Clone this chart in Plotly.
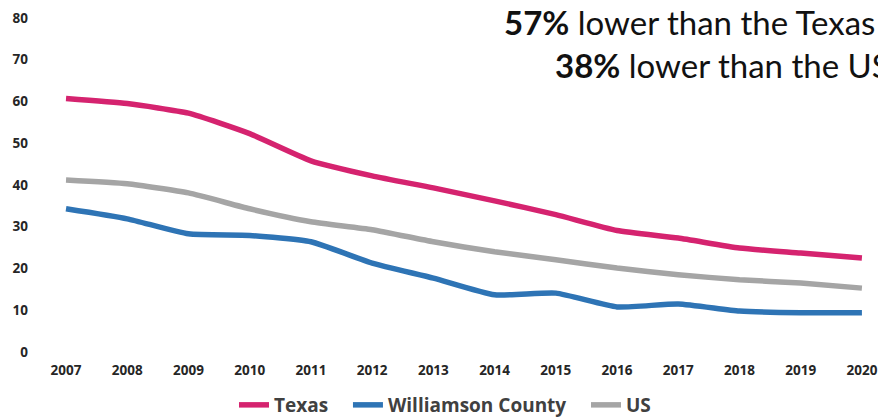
import plotly.graph_objects as go

years = list(range(2007, 2021))
texas = [60.7, 59.5, 57.2, 52.3, 45.8, 42.2, 39.3, 36.2, 32.9, 29.1, 27.3, 24.9, 23.7, 22.5]
williamson = [34.3, 31.9, 28.3, 27.9, 26.4, 21.3, 17.7, 13.7, 14.1, 10.8, 11.5, 9.8, 9.4, 9.4]
us = [41.2, 40.3, 38.1, 34.3, 31.2, 29.3, 26.4, 24.0, 22.1, 20.1, 18.5, 17.3, 16.5, 15.3]
y_ticks = [0, 10, 20, 30, 40, 50, 60, 70, 80]

W, H = 886, 417
# the page body adds an 8px offset; figure coordinates are shifted accordingly
L, R, T, B = 32, 18, 10, 73

fig = go.Figure()
series = [("Texas&nbsp;&nbsp;&nbsp;", texas, "#d5236f"),
          ("Williamson County&nbsp;&nbsp;&nbsp;", williamson, "#2e74b5"),
          ("US", us, "#a5a5a5")]
for name, vals, col in series:
    fig.add_trace(go.Scatter(x=years, y=vals, name=name, mode="lines",
                             line=dict(color=col, width=5.5, shape="spline", smoothing=0.5)))

def px_x(p):
    return (p - L) / (W - L - R)

def px_y(p):
    return (H - B - p) / (H - T - B)

ann_font = dict(family="Lato, sans-serif", size=33, color="#111111")
fig.add_annotation(text="<b>57%</b> lower than the Texas", xref="paper", yref="paper",
                   x=px_x(494), y=px_y(14), xanchor="left", yanchor="middle",
                   showarrow=False, font=ann_font)
fig.add_annotation(text="<b>38%</b> lower than the US", xref="paper", yref="paper",
                   x=px_x(545), y=px_y(57), xanchor="left", yanchor="middle",
                   showarrow=False, font=ann_font)

tick_font = dict(family="Open Sans, sans-serif", size=13.5, color="#262626", weight="bold")
fig.update_layout(
    width=W, height=H,
    margin=dict(l=L, r=R, t=T, b=B, autoexpand=False),
    paper_bgcolor="white", plot_bgcolor="white",
    xaxis=dict(range=[2006.575, 2020.23], tickmode="array", tickvals=years,
               ticktext=[str(y) for y in years], showgrid=False, zeroline=False,
               showline=False, ticks="", tickfont=tick_font, ticklabelstandoff=8,
               automargin=False),
    yaxis=dict(range=[0, 80], tickmode="array", tickvals=y_ticks, showgrid=False,
               zeroline=False, showline=False, ticks="", tickfont=tick_font,
               ticklabelstandoff=11, automargin=False),
    legend=dict(orientation="h", xref="container", yref="container",
                x=226 / W, xanchor="left", y=1 - 397 / H, yanchor="middle",
                font=dict(family="Open Sans, sans-serif", size=19, color="#404040", weight="bold"),
                itemwidth=30, tracegroupgap=0),
    showlegend=True,
)
fig.write_html("out.html")
